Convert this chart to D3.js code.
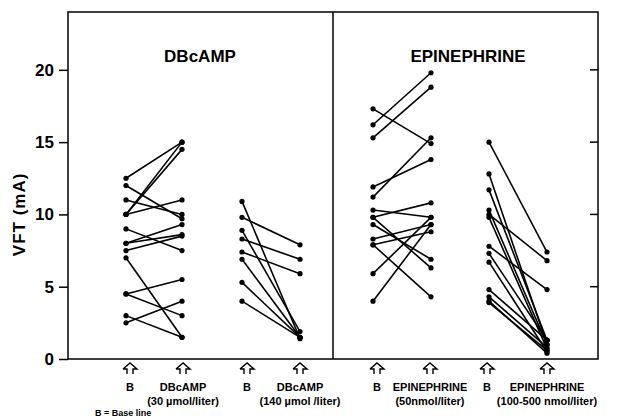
<!DOCTYPE html>
<html>
<head>
<meta charset="utf-8">
<script src="https://cdn.jsdelivr.net/npm/d3@7"></script>
<style>
  body { margin: 0; background: #fff; }
  text { font-family: "Liberation Sans", Arial, sans-serif; font-weight: bold; fill: #000; }
</style>
</head>
<body>
<svg id="chart" width="618" height="419"></svg>
<script>
// columns along the x axis
const columns = ["B1", "D30", "B2", "D140", "B3", "E50", "B4", "E500"];
const columnLabels = ["B", "DBcAMP", "B", "DBcAMP", "B", "EPINEPHRINE", "B", "EPINEPHRINE"];
const doseLabels = ["", "(30 \u00b5mol/liter)", "", "(140 \u00b5mol /liter)", "", "(50nmol/liter)", "", "(100-500 nmol/liter)"];
const yTicks = [0, 5, 10, 15, 20];

// VFT (mA) per animal, base line then drug
const dbcamp30Base = [12.5, 12.0, 11.0, 10.0, 10.0, 10.0, 9.0, 8.0, 8.0, 7.5, 7.0, 4.5, 4.5, 3.0, 2.5];
const dbcamp30Drug = [15.0, 9.7, 10.0, 11.0, 14.5, 15.0, 7.5, 9.3, 8.6, 8.5, 1.5, 5.5, 3.0, 1.5, 4.0];

const dbcamp140Base = [10.9, 9.8, 8.9, 8.3, 7.4, 6.9, 5.3, 4.0];
const dbcamp140Drug = [1.4, 7.9, 1.9, 6.9, 5.9, 1.5, 1.5, 1.5];

const epi50Base = [17.3, 16.2, 15.3, 11.9, 11.2, 10.3, 9.8, 9.8, 9.3, 8.3, 7.9, 7.9, 5.9, 4.0];
const epi50Drug = [14.9, 19.8, 18.8, 13.8, 15.3, 9.8, 10.8, 6.3, 6.9, 9.3, 4.3, 8.8, 9.8, 9.3];

const epi500Base = [15.0, 12.8, 11.7, 10.3, 10.0, 9.8, 7.8, 7.3, 6.7, 4.8, 4.3, 4.0, 3.9];
const epi500Drug = [7.4, 1.0, 1.3, 1.0, 6.8, 0.7, 4.8, 1.3, 0.5, 1.3, 0.8, 0.4, 0.6];

const series = [
  { from: "B1", to: "D30", base: dbcamp30Base, drug: dbcamp30Drug },
  { from: "B2", to: "D140", base: dbcamp140Base, drug: dbcamp140Drug },
  { from: "B3", to: "E50", base: epi50Base, drug: epi50Drug },
  { from: "B4", to: "E500", base: epi500Base, drug: epi500Drug }
];

const svg = d3.select("#chart");
const frameL = 68, frameR = 598, frameT = 12, frameB = 359, divider = 333;

const y = d3.scaleLinear().domain([0, 24]).range([frameB, frameT]);
const x = d3.scaleOrdinal().domain(columns).range([126, 182, 242, 300, 373, 431, 489, 547]);
const arrowX = d3.scaleOrdinal().domain(columns).range([130, 183, 247, 300, 377, 430, 487, 547]);

// frame
svg.append("rect")
  .attr("x", frameL).attr("y", frameT)
  .attr("width", frameR - frameL).attr("height", frameB - frameT)
  .attr("fill", "none").attr("stroke", "#000").attr("stroke-width", 1.5);
svg.append("line")
  .attr("x1", divider).attr("x2", divider)
  .attr("y1", frameT).attr("y2", frameB)
  .attr("stroke", "#000").attr("stroke-width", 1.5);

// left axis
const yAxis = d3.axisLeft(y).tickValues(yTicks).tickSize(9).tickPadding(5);
const ga = svg.append("g").attr("transform", `translate(${frameL},0)`).call(yAxis);
ga.select(".domain").remove();
ga.selectAll(".tick line").attr("stroke-width", 1.5);
ga.selectAll(".tick text")
  .style("font-size", "17px").style("font-weight", "bold")
  .style("font-family", "Liberation Sans, Arial, sans-serif");

// right inward ticks
svg.append("g").selectAll("line")
  .data(yTicks.filter(d => d > 0))
  .join("line")
  .attr("x1", frameR - 8).attr("x2", frameR)
  .attr("y1", d => y(d)).attr("y2", d => y(d))
  .attr("stroke", "#000").attr("stroke-width", 1.5);

// axis title
svg.append("text")
  .attr("transform", `translate(25,${y(10)}) rotate(-90)`)
  .attr("text-anchor", "middle")
  .style("font-size", "17px")
  .style("letter-spacing", "1px")
  .text("VFT (mA)");

// panel titles
svg.append("text").attr("x", 200).attr("y", 62).attr("text-anchor", "middle")
  .style("font-size", "17px").text("DBcAMP");
svg.append("text").attr("x", 468).attr("y", 62).attr("text-anchor", "middle")
  .style("font-size", "17px").text("EPINEPHRINE");

// paired lines and dots
series.forEach(s => {
  const pairs = s.base.map((b, i) => ({ b: b, d: s.drug[i] }));
  const g = svg.append("g");
  g.selectAll("line")
    .data(pairs)
    .join("line")
    .attr("x1", x(s.from)).attr("x2", x(s.to))
    .attr("y1", p => y(p.b)).attr("y2", p => y(p.d))
    .attr("stroke", "#000").attr("stroke-width", 1.6);
  g.selectAll("circle.b")
    .data(pairs)
    .join("circle")
    .attr("class", "b")
    .attr("cx", x(s.from)).attr("cy", p => y(p.b)).attr("r", 2.6);
  g.selectAll("circle.d")
    .data(pairs)
    .join("circle")
    .attr("class", "d")
    .attr("cx", x(s.to)).attr("cy", p => y(p.d)).attr("r", 2.6);
});

// arrows below the axis
const arrow = cx => {
  const t = 363;
  return `M${cx - 7},${t + 6} L${cx},${t} L${cx + 7},${t + 6} L${cx + 3},${t + 6} L${cx + 3},${t + 11}` +
         ` M${cx - 7},${t + 6} L${cx - 3},${t + 6} L${cx - 3},${t + 11}`;
};
svg.append("g").selectAll("path")
  .data(columns)
  .join("path")
  .attr("d", c => arrow(arrowX(c)))
  .attr("fill", "none").attr("stroke", "#000").attr("stroke-width", 1.4);

svg.append("g").selectAll("text")
  .data(columns)
  .join("text")
  .attr("x", c => arrowX(c)).attr("y", 391)
  .attr("text-anchor", "middle")
  .style("font-size", "11px")
  .text((c, i) => columnLabels[i]);

svg.append("g").selectAll("text")
  .data(columns)
  .join("text")
  .attr("x", c => arrowX(c)).attr("y", 405)
  .attr("text-anchor", "middle")
  .style("font-size", "11px")
  .text((c, i) => doseLabels[i]);

svg.append("text").attr("x", 95).attr("y", 416)
  .style("font-size", "9px").text("B = Base line");
</script>
</body>
</html>
